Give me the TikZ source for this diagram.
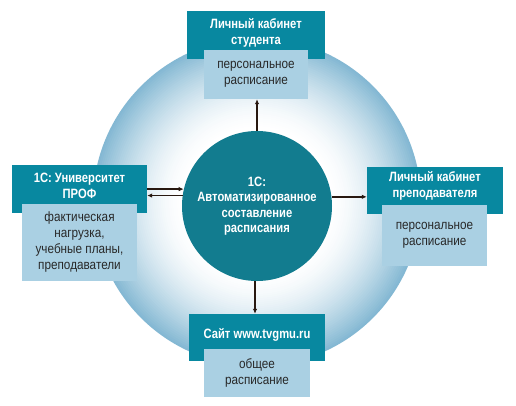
\documentclass[tikz,border=0pt]{standalone}
\usepackage{fontspec}
\setmainfont{Liberation Sans}
\newfontfamily\lblfont{Liberation Sans}[FakeStretch=0.83]
\newfontfamily\txtfont{Liberation Sans}[FakeStretch=0.87]
\usetikzlibrary{arrows.meta,calc}
\definecolor{darkbox}{RGB}{8,136,160}
\definecolor{circfill}{RGB}{18,124,143}
\definecolor{lightbox}{RGB}{170,208,227}
\definecolor{ringout}{RGB}{132,184,211}
\definecolor{arrowc}{RGB}{40,24,16}
\definecolor{boxtext}{RGB}{40,40,40}
\tikzset{
  darkbx/.style={fill=darkbox, draw=none, inner sep=0pt, anchor=center},
  lightbx/.style={fill=lightbox, draw=none, inner sep=0pt, anchor=center, align=center,
    text=boxtext, font=\txtfont\fontsize{13.5}{16}\selectfont},
  darklbl/.style={inner sep=0pt, align=center, text=white,
    font=\lblfont\fontsize{13.5}{16}\selectfont\bfseries},
  conn/.style={draw=arrowc, line width=1.5pt, -{Latex[length=5pt,width=4.5pt]}}
}
\begin{document}
\begin{tikzpicture}[x=1pt,y=-1pt]
\useasboundingbox (0,0) rectangle (516,405);
\fill[white] (0,0) rectangle (516,405);
% background ring with radial gradient
\coordinate (ringc) at (257,202);
\foreach \i in {0,...,45}{
  \pgfmathsetmacro\rr{164-2*\i}
  \pgfmathsetmacro\pp{100*pow(1-\i/45,1.6)}
  \fill[ringout!\pp!white] (ringc) circle (\rr pt);
}
% central circle
\node[circle, fill=circfill, minimum size=150pt, inner sep=0pt, align=center, text=white,
  font=\lblfont\fontsize{13.5}{15.5}\selectfont\bfseries] (core) at (257,206)
  {1С:\\Автоматизированное\\составление\\расписания};
% top
\node[darkbx, minimum width=138pt, minimum height=48pt] (stuD) at (256,35) {};
\node[darklbl] (stuT) at (256,33) {Личный кабинет\\студента};
\node[lightbx, minimum width=104pt, minimum height=49pt] (stuL) at (256,74.5) {персональное\\расписание};
% left
\node[darkbx, minimum width=135pt, minimum height=48pt] (uniD) at (79.5,189) {};
\node[darklbl] (uniT) at (79.5,186) {1С: Университет\\ПРОФ};
\node[lightbx, minimum width=115pt, minimum height=77pt] (uniL) at (79.5,242.5) {фактическая\\нагрузка,\\учебные планы,\\преподаватели};
% right
\node[darkbx, minimum width=136pt, minimum height=47pt] (tchD) at (435,190.5) {};
\node[darklbl] (tchT) at (435,186) {Личный кабинет\\преподавателя};
\node[lightbx, minimum width=105pt, minimum height=61pt] (tchL) at (434.5,235.5) {персональное\\расписание};
% bottom
\node[darkbx, minimum width=136pt, minimum height=47pt] (webD) at (257,337.5) {};
\node[darklbl] (webT) at (257,335) {Сайт www.tvgmu.ru};
\node[lightbx, minimum width=106pt, minimum height=48pt] (webL) at (257,373) {общее\\расписание};
% connectors
\draw[conn] (core.north) -- (core.north |- stuL.south);
\draw[conn] (core.7) -- (tchD.west |- core.7);
\draw[conn] ([xshift=-2pt]core.south) -- ([xshift=-2pt]core.south |- webD.north);
\draw[conn] (uniD.east |- core.167) -- (core.167);
\draw[conn] (core.172) -- (uniD.east |- core.172);
\end{tikzpicture}
\end{document}
